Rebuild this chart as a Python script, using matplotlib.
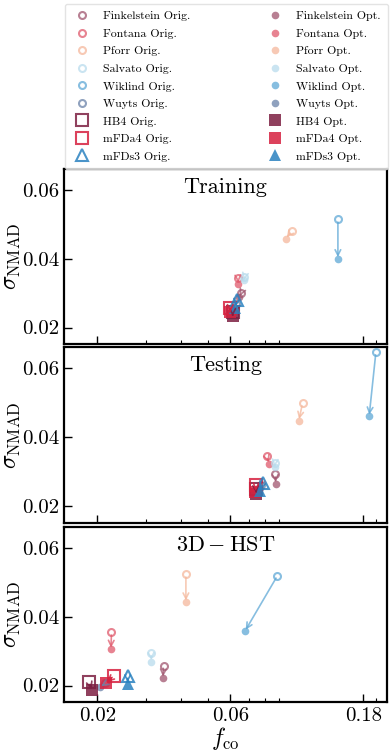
import matplotlib
matplotlib.use("Agg")
import matplotlib.pyplot as plt
import numpy as np

plt.rcParams['font.family'] = 'serif'
plt.rcParams['font.serif'] = ['cmr10', 'DejaVu Serif']
plt.rcParams['mathtext.fontset'] = 'cm'
plt.rcParams['axes.formatter.use_mathtext'] = True
plt.rcParams['axes.unicode_minus'] = False

codes = ["Finkelstein", "Fontana", "Pforr", "Salvato", "Wiklind", "Wuyts", "HB4", "mFDa4", "mFDs3"]
colors = ["#a0566f", "#e05a6c", "#f5b89c", "#b9dced", "#5fa8d6", "#6a82a8", "#7d1f42", "#d6213f", "#2a82c0"]
markers = ["o", "o", "o", "o", "o", "o", "s", "s", "^"]
panels = ["Training", "Testing", r"$\mathrm{3D-HST}$"]

# Training
train_orig_x = [0.0658, 0.0640, 0.0996, 0.0674, 0.146, 0.0630, 0.0612, 0.0600, 0.0632]
train_orig_y = [0.0302, 0.0343, 0.0481, 0.0346, 0.0515, 0.0270, 0.0245, 0.0256, 0.0280]
train_opt_x = [0.0646, 0.0642, 0.0950, 0.0670, 0.146, 0.0625, 0.0612, 0.0600, 0.0625]
train_opt_y = [0.0288, 0.0327, 0.0459, 0.0338, 0.0401, 0.0258, 0.0233, 0.0245, 0.0258]

# Testing
test_orig_x = [0.0870, 0.0810, 0.109, 0.0868, 0.1998, 0.0775, 0.0742, 0.0742, 0.0784]
test_orig_y = [0.0293, 0.0346, 0.0499, 0.0327, 0.0647, 0.0262, 0.0250, 0.0262, 0.0267]
test_opt_x = [0.0874, 0.0829, 0.1057, 0.0865, 0.189, 0.0770, 0.0745, 0.0738, 0.0766]
test_opt_y = [0.0266, 0.0324, 0.0449, 0.0315, 0.0462, 0.0254, 0.0235, 0.0242, 0.0244]

# 3D-HST
hst_orig_x = [0.0346, 0.0225, 0.0416, 0.0312, 0.0886, 0.0214, 0.0187, 0.0230, 0.0257]
hst_orig_y = [0.0258, 0.0355, 0.0524, 0.0295, 0.0520, 0.0206, 0.0211, 0.0229, 0.0229]
hst_opt_x = [0.0344, 0.0224, 0.0416, 0.0313, 0.0678, 0.0205, 0.0192, 0.0215, 0.0257]
hst_opt_y = [0.0222, 0.0306, 0.0444, 0.0270, 0.0359, 0.0196, 0.0186, 0.0208, 0.0205]

data = [
    (train_orig_x, train_orig_y, train_opt_x, train_opt_y),
    (test_orig_x, test_orig_y, test_opt_x, test_opt_y),
    (hst_orig_x, hst_orig_y, hst_opt_x, hst_opt_y),
]

xticks = [0.02, 0.06, 0.18]
yticks = [0.02, 0.04, 0.06]

fig = plt.figure(figsize=(3.91, 7.51), dpi=100)
W, H = 391, 751
boxes = [(169, 344), (347, 523), (527, 702)]
left, right = 64, 387

axes = []
orig_handles, opt_handles = [], []
for i, (top, bot) in enumerate(boxes):
    ax = fig.add_axes([left / W, 1 - bot / H, (right - left) / W, (bot - top) / H])
    axes.append(ax)
    ox, oy, px, py = data[i]
    for j in range(len(codes)):
        c = colors[j]
        m = markers[j]
        if m == "o":
            ms_o, ms_p, alpha = 5, 5.5, 0.75
        elif m == "s":
            ms_o, ms_p, alpha = 8, 8, 0.85
        else:
            ms_o, ms_p, alpha = 8.5, 8.5, 0.85
        h1, = ax.plot([ox[j]], [oy[j]], linestyle='none', marker=m, ms=ms_o,
                      mfc='none', mec=c, mew=1.5, alpha=alpha, zorder=3)
        h2, = ax.plot([px[j]], [py[j]], linestyle='none', marker=m, ms=ms_p,
                      mfc=c, mec=c, mew=0, alpha=alpha, zorder=3)
        ax.annotate('', xy=(px[j], py[j]), xytext=(ox[j], oy[j]),
                    arrowprops=dict(arrowstyle='->', color=c, lw=1.2, alpha=alpha,
                                    shrinkA=2, shrinkB=1), zorder=4)
        if i == 0:
            orig_handles.append((h1, codes[j] + " Orig."))
            opt_handles.append((h2, codes[j] + " Opt."))
    ax.set_xscale('log')
    ax.set_xlim(0.0152, 0.219)
    ax.set_ylim(0.0152, 0.0662)
    ax.set_xticks(xticks)
    ax.set_yticks(yticks)
    ax.set_yticklabels(["0.02", "0.04", "0.06"])
    if i == 2:
        ax.set_xticklabels(["0.02", "0.06", "0.18"])
        ax.set_xlabel(r"$f_{\rm co}$", fontsize=17)
        ax.xaxis.set_label_coords(0.5, -0.13)
    else:
        ax.set_xticklabels([])
    ax.xaxis.set_minor_formatter(matplotlib.ticker.NullFormatter())
    ax.tick_params(which='both', direction='in', labelsize=15)
    ax.tick_params(which='major', length=6, width=1)
    ax.tick_params(which='minor', length=3, width=0.8)
    for s in ax.spines.values():
        s.set_linewidth(1.6)
    ax.set_ylabel(r"$\sigma_{\rm NMAD}$", fontsize=17)
    ax.yaxis.set_label_coords(-0.128, 0.5)
    ax.text(0.5, 0.895, panels[i], transform=ax.transAxes, ha='center', va='center', fontsize=16)

handles = [h for h, _ in orig_handles] + [h for h, _ in opt_handles]
labels = [l for _, l in orig_handles] + [l for _, l in opt_handles]


def make_legend(fs, cs, ls, anchor_x):
    fpx = fs * 100 / 72.0
    # marker-to-text distance of ~21 px
    hl = 20.0 / fpx
    htp = 11.0 / fpx
    return fig.legend(handles, labels, ncol=2, loc='upper left',
                      bbox_to_anchor=(anchor_x, 1 - 4 / H),
                      fontsize=fs, labelspacing=ls, handletextpad=htp, handlelength=hl,
                      borderaxespad=0, frameon=True, fancybox=True, edgecolor='#dddddd',
                      columnspacing=cs, numpoints=1, borderpad=0.6)


fs, cs, ls, anc = 9.0, 4.0, 0.5, left / W
for it in range(4):
    leg = make_legend(fs, cs, ls, anc)
    fig.canvas.draw()
    texts = leg.get_texts()
    e0 = texts[0].get_window_extent()
    e8 = texts[8].get_window_extent()
    e9 = texts[9].get_window_extent()
    fpx = fs * 100 / 72.0
    width = e0.x1 - e0.x0
    pitch = (e0.y0 + e0.y1) / 2 - (e8.y0 + e8.y1) / 2
    pitch /= 8.0
    leg.remove()
    new_fs = fs * 87.0 / width
    ls = ls + (17.5 - pitch) / fpx
    cs = cs + (193 - (e9.x0 - e0.x0)) / fpx
    anc = anc + (103 - e0.x0) / W
    fs = new_fs

leg = make_legend(fs, cs, ls, anc)

fig.savefig("out.png", dpi=100)
